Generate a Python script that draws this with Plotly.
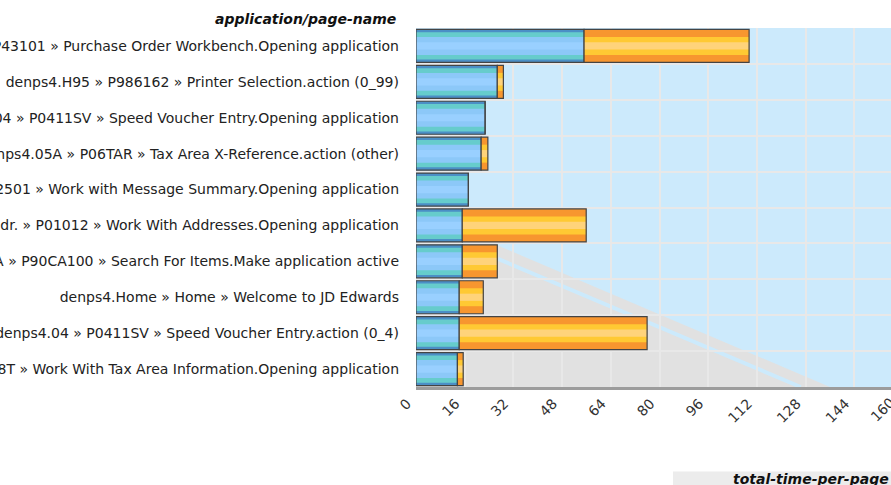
import plotly.graph_objects as go

pages = [
    "denps4.43 » P43101 » Purchase Order Workbench.Opening application",
    "denps4.H95 » P986162 » Printer Selection.action (0_99)",
    "denps4.04 » P0411SV » Speed Voucher Entry.Opening application",
    "denps4.05A » P06TAR » Tax Area X-Reference.action (other)",
    "denps4.01 » P012501 » Work with Message Summary.Opening application",
    "denps4.Addr. » P01012 » Work With Addresses.Opening application",
    "denps4.90CA » P90CA100 » Search For Items.Make application active",
    "denps4.Home » Home » Welcome to JD Edwards",
    "denps4.04 » P0411SV » Speed Voucher Entry.action (0_4)",
    "denps4.00 » P0008T » Work With Tax Area Information.Opening application",
]
blue_part = [55.2, 26.7, 22.7, 21.4, 17.2, 15.2, 15.2, 14.2, 14.2, 13.6]
orange_part = [54.2, 2.0, 0.0, 2.2, 0.0, 40.7, 11.5, 7.9, 61.7, 1.9]
x_ticks = [0, 16, 32, 48, 64, 80, 96, 112, 128, 144, 160]

FONT = "DejaVu Sans"
W = 0.92

fig = go.Figure()

# blue segment, layered stripes
for w, c in [(W, "#4b8fc6"), (0.76, "#66cccc"), (0.5, "#8cc8f8"), (0.2, "#99d0ff")]:
    fig.add_trace(go.Bar(y=pages, x=blue_part, orientation="h", width=w,
                         marker=dict(color=c, line=dict(width=0)), showlegend=False,
                         hoverinfo="x+y"))
fig.add_trace(go.Bar(y=pages, x=blue_part, orientation="h", width=W,
                     marker=dict(color="rgba(0,0,0,0)", line=dict(color="#444444", width=1.2)),
                     showlegend=False, hoverinfo="skip"))

# orange segment, layered stripes
for w, c in [(W, "#f7962f"), (0.5, "#ffc933"), (0.2, "#ffd37a")]:
    fig.add_trace(go.Bar(y=pages, x=orange_part, base=blue_part, orientation="h", width=w,
                         marker=dict(color=c, line=dict(width=0)), showlegend=False,
                         hoverinfo="x+y"))
fig.add_trace(go.Bar(y=pages, x=orange_part, base=blue_part, orientation="h", width=W,
                     marker=dict(color="rgba(0,0,0,0)", line=dict(color="#444444", width=1.2)),
                     showlegend=False, hoverinfo="skip"))

fig.update_layout(
    template="none",
    width=891, height=485,
    margin=dict(l=416, r=0, t=28, b=98, autoexpand=False),
    barmode="overlay",
    paper_bgcolor="white",
    plot_bgcolor="#cceafc",
    font=dict(family=FONT, size=14, color="#222222"),
    xaxis=dict(range=[0, 156], tickvals=x_ticks, ticktext=[str(v) for v in x_ticks],
               tickangle=-45, tickfont=dict(size=14, color="#333333"),
               ticklabelshift=-9,
               showgrid=True, gridcolor="#e8e8e8", gridwidth=2,
               showline=True, linecolor="#9c9c9c", linewidth=3,
               ticks="", zeroline=False, automargin=False),
    yaxis=dict(autorange="reversed", tickson="boundaries", showgrid=True,
               gridcolor="#e8e8e8", gridwidth=2, ticks="", ticklabelstandoff=16,
               tickfont=dict(size=14, color="#222222"), showline=False,
               zeroline=False, automargin=False),
    shapes=[
        dict(type="path", xref="x domain", yref="y domain", layer="below",
             path="M 0 0.394 L 0.1726 0.394 L 0.8716 0 L 0 0 Z",
             fillcolor="#e1e1e1", line=dict(width=0)),
        dict(type="line", xref="x domain", yref="y domain", layer="below",
             x0=0.1726, y0=0.357, x1=0.81, y1=0,
             line=dict(color="#cceafc", width=4)),
        dict(type="rect", xref="paper", yref="paper", layer="below",
             x0=(673 - 416) / 475, x1=1.0, y0=(386.5 - 485) / 359, y1=(386.5 - 471) / 359,
             fillcolor="#ececec", line=dict(width=0)),
    ],
    annotations=[
        dict(text="<b><i>application/page-name</i></b>", xref="paper", yref="paper",
             x=(398 - 416) / 475, y=(386.5 - 19) / 359, xanchor="right", yanchor="middle",
             showarrow=False, font=dict(size=14, color="#111111")),
        dict(text="<b><i>total-time-per-page</i></b>", xref="paper", yref="paper",
             x=1.0, y=(386.5 - 478) / 359, xanchor="right", yanchor="middle",
             showarrow=False, font=dict(size=14, color="#111111")),
        # last tick label, partly beyond the right edge as in the original
        dict(text="160", xref="paper", yref="paper",
             x=(882 - 416) / 475, y=(386.5 - 409) / 359, xanchor="center", yanchor="middle",
             textangle=-45, showarrow=False, font=dict(size=14, color="#333333")),
    ],
)

fig.write_html("out.html", config={"displayModeBar": False},
               post_script="document.body.style.margin='0';document.body.style.overflow='hidden';")
